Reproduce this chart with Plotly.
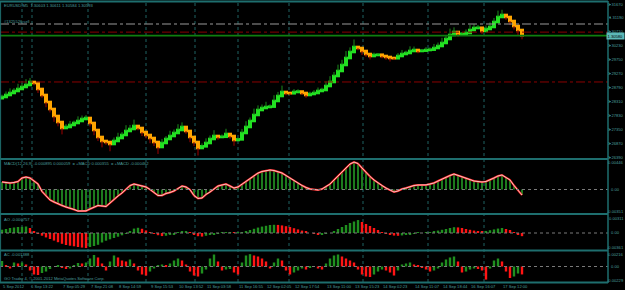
import plotly.graph_objects as go

# ---------------- data ----------------
open0 = 1.28420
close = [
    1.28462, 1.28531, 1.28600, 1.28669, 1.28738, 1.28807, 1.28876, 1.28979, 1.28945, 1.28738,
    1.28531, 1.28289, 1.28048, 1.27806, 1.27599, 1.27392, 1.27427, 1.27496, 1.27565, 1.27634,
    1.27703, 1.27737, 1.27565, 1.27323, 1.27082, 1.26944, 1.26909, 1.26840, 1.26944, 1.27047,
    1.27151, 1.27289, 1.27358, 1.27461, 1.27392, 1.27254, 1.27151, 1.27047, 1.26909, 1.26737,
    1.26875, 1.27013, 1.27116, 1.27220, 1.27323, 1.27427, 1.27289, 1.27082, 1.26909, 1.26702,
    1.26760, 1.26875, 1.27013, 1.27116, 1.27082, 1.27090, 1.27185, 1.27116, 1.26978, 1.27000,
    1.27220, 1.27427, 1.27634, 1.27841, 1.28013, 1.28082, 1.28117, 1.28130, 1.28324, 1.28496,
    1.28634, 1.28600, 1.28590, 1.28634, 1.28650, 1.28600, 1.28531, 1.28565, 1.28600, 1.28669,
    1.28703, 1.28841, 1.28979, 1.29186, 1.29359, 1.29566, 1.29807, 1.30014, 1.30187, 1.30152,
    1.30049, 1.29945, 1.29876, 1.29911, 1.29920, 1.29876, 1.29842, 1.29807, 1.29800, 1.29876,
    1.29945, 1.29980, 1.30049, 1.30083, 1.30049, 1.30060, 1.30083, 1.30095, 1.30152, 1.30221,
    1.30325, 1.30463, 1.30601, 1.30704, 1.30635, 1.30640, 1.30670, 1.30773, 1.30842, 1.30850,
    1.30738, 1.30808, 1.30877, 1.31049, 1.31222, 1.31291, 1.31222, 1.31083, 1.30911, 1.30773,
    1.30593]
wick_pips = [
    8, 12, 16, 10, 18, 12, 20, 14, 8, 14,
    10, 18, 12, 20, 15, 22, 10, 14, 8, 16,
    12, 10, 12, 18, 14, 22, 10, 25, 12, 18,
    10, 20, 14, 22, 8, 14, 12, 18, 14, 24,
    14, 10, 18, 12, 20, 16, 10, 18, 14, 26,
    10, 16, 12, 20, 10, 8, 18, 10, 20, 6,
    14, 20, 12, 22, 16, 12, 18, 8, 20, 14,
    22, 8, 6, 10, 8, 6, 10, 8, 10, 12,
    8, 16, 20, 14, 22, 18, 24, 16, 26, 8,
    14, 10, 12, 8, 6, 8, 10, 12, 6, 10,
    14, 8, 16, 12, 8, 6, 10, 8, 14, 12,
    18, 14, 22, 16, 10, 6, 12, 18, 14, 10,
    10, 12, 16, 14, 22, 18, 10, 14, 12, 18,
    14]
macd = [
    0.00122, 0.00114, 0.00106, 0.00114, 0.00130, 0.00187, 0.00203, 0.00187, 0.00138, 0.00089,
    -0.00033, -0.00106, -0.00171, -0.00203, -0.00236, -0.00260, -0.00285, -0.00301, -0.00325, -0.00351,
    -0.00350, -0.00348, -0.00317, -0.00285, -0.00260, -0.00268, -0.00277, -0.00220, -0.00155, -0.00106,
    -0.00057, 0.00008, 0.00065, 0.00089, 0.00073, 0.00057, 0.00041, 0.00000, -0.00049, -0.00098,
    -0.00096, -0.00065, -0.00049, -0.00024, 0.00016, 0.00057, 0.00041, -0.00002, -0.00098, -0.00146,
    -0.00138, -0.00081, -0.00041, 0.00008, 0.00057, 0.00073, 0.00089, 0.00057, 0.00024, 0.00041,
    0.00089, 0.00138, 0.00187, 0.00228, 0.00268, 0.00293, 0.00309, 0.00317, 0.00309, 0.00293,
    0.00268, 0.00228, 0.00187, 0.00138, 0.00098, 0.00065, 0.00033, 0.00008, 0.00000, -0.00008,
    0.00008, 0.00049, 0.00089, 0.00155, 0.00220, 0.00293, 0.00358, 0.00415, 0.00446, 0.00423,
    0.00350, 0.00277, 0.00212, 0.00155, 0.00106, 0.00065, 0.00024, -0.00008, -0.00041, -0.00024,
    0.00008, 0.00024, 0.00049, 0.00065, 0.00073, 0.00074, 0.00075, 0.00089, 0.00106, 0.00138,
    0.00171, 0.00195, 0.00228, 0.00252, 0.00228, 0.00203, 0.00179, 0.00163, 0.00138, 0.00130,
    0.00122, 0.00130, 0.00155, 0.00187, 0.00220, 0.00236, 0.00195, 0.00155, 0.00065, -0.00016,
    -0.00090]
ao = [
    0.00079, 0.00096, 0.00120, 0.00132, 0.00144, 0.00149, 0.00156, 0.00120, 0.00048, -0.00024,
    -0.00065, -0.00106, -0.00144, -0.00182, -0.00221, -0.00259, -0.00288, -0.00305, -0.00319, -0.00336,
    -0.00350, -0.00361, -0.00336, -0.00312, -0.00283, -0.00228, -0.00185, -0.00151, -0.00120, -0.00089,
    -0.00055, -0.00024, 0.00048, 0.00106, 0.00125, 0.00101, 0.00062, 0.00024, -0.00014, -0.00053,
    -0.00074, -0.00067, -0.00048, -0.00029, 0.00005, 0.00034, 0.00043, 0.00024, -0.00034, -0.00077,
    -0.00086, -0.00067, -0.00048, -0.00029, -0.00010, 0.00005, 0.00014, 0.00024, 0.00007, 0.00008,
    0.00024, 0.00048, 0.00072, 0.00101, 0.00130, 0.00154, 0.00173, 0.00192, 0.00197, 0.00194,
    0.00182, 0.00163, 0.00144, 0.00115, 0.00086, 0.00058, 0.00029, 0.00000, -0.00019, -0.00038,
    -0.00036, -0.00019, 0.00000, 0.00048, 0.00096, 0.00144, 0.00192, 0.00240, 0.00276, 0.00311,
    0.00264, 0.00216, 0.00168, 0.00120, 0.00072, 0.00024, -0.00024, -0.00043, -0.00062, -0.00067,
    -0.00058, -0.00048, -0.00029, -0.00010, 0.00005, 0.00000, 0.00005, 0.00024, 0.00038, 0.00058,
    0.00077, 0.00096, 0.00120, 0.00139, 0.00134, 0.00120, 0.00096, 0.00077, 0.00058, 0.00048,
    0.00047, 0.00049, 0.00067, 0.00086, 0.00106, 0.00120, 0.00096, 0.00072, 0.00010, -0.00038,
    -0.00076]
ac = [
    0.00096, 0.00026, -0.00035, 0.00070, 0.00053, 0.00070, 0.00035, -0.00070, -0.00140, -0.00149,
    -0.00114, -0.00088, -0.00044, 0.00000, 0.00009, -0.00018, -0.00044, -0.00035, 0.00018, 0.00061,
    0.00053, 0.00070, 0.00140, 0.00201, 0.00158, 0.00053, -0.00070, 0.00088, 0.00193, 0.00158,
    0.00105, 0.00088, 0.00123, 0.00053, -0.00070, -0.00140, -0.00158, -0.00088, -0.00035, 0.00018,
    0.00035, 0.00026, 0.00053, 0.00105, 0.00140, 0.00105, 0.00035, -0.00088, -0.00158, -0.00175,
    -0.00123, -0.00053, 0.00140, 0.00210, 0.00088, -0.00070, -0.00053, -0.00044, -0.00105, -0.00140,
    0.00070, 0.00193, 0.00216, 0.00193, 0.00175, 0.00140, 0.00088, -0.00035, 0.00070, 0.00140,
    0.00105, -0.00070, -0.00140, -0.00105, -0.00070, -0.00035, -0.00053, -0.00018, 0.00000, -0.00035,
    -0.00053, 0.00053, 0.00140, 0.00193, 0.00210, 0.00175, 0.00140, 0.00105, 0.00070, -0.00053,
    -0.00140, -0.00175, -0.00184, -0.00140, -0.00088, -0.00053, -0.00070, -0.00105, -0.00158, -0.00070,
    0.00035, 0.00053, 0.00070, 0.00035, 0.00018, -0.00018, -0.00053, -0.00088, -0.00070, -0.00035,
    0.00070, 0.00123, 0.00158, 0.00175, 0.00088, -0.00105, -0.00088, -0.00053, -0.00035, -0.00044,
    -0.00070, -0.00229, -0.00035, 0.00105, 0.00140, 0.00088, -0.00088, -0.00201, -0.00175, -0.00123,
    -0.00139]

price_ticks = [1.31670, 1.31190, 1.30710, 1.30230, 1.29750, 1.29270,
               1.28790, 1.28310, 1.27830, 1.27350, 1.26870, 1.26390]
date_labels = ["5 Sep 2012", "6 Sep 13:22", "7 Sep 05:29", "7 Sep 21:08", "8 Sep 14:59",
               "9 Sep 15:53", "10 Sep 13:52", "11 Sep 03:58", "11 Sep 16:55", "12 Sep 02:05",
               "12 Sep 17:54", "13 Sep 11:00", "13 Sep 15:23", "14 Sep 02:23", "14 Sep 11:07",
               "14 Sep 18:44", "16 Sep 16:07", "17 Sep 12:00"]
date_bars = [0, 7, 15, 22, 29, 37, 44, 51, 59, 66, 73, 81, 88, 95, 103, 110, 117, 125]
separator_bars = [5, 7.5, 21.5, 36, 48.25, 59, 71.75, 90.25, 106.5, 120.5]

order_price = 1.30980
stop_level = 1.30700
take_level = 1.28980
bid = 1.30580
macd_hi, macd_lo = 0.00446, -0.00351
ao_hi, ao_lo = 0.00311, -0.00361
ac_hi, ac_lo = 0.00216, -0.00229

title_text = "EURUSD,M5  1.30603 1.30611 1.30584 1.30593"
order_text = "#1325526 sell"
macd_text = "MACD(12,26,9) -0.000895 0.000059  = +MACD 0.000355  = +MACD -0.000462"
ao_text = "AO -0.000757"
ac_text = "AC -0.001388"
copy_text = "GO Trader 4, \u00a9 2001-2012 MetaQuotes Software Corp."

# ---------------- styling ----------------
W, H, PLOT_W = 625, 290, 608
BG = "#000000"
TXT = "#4a9e9e"
FRAME = "#1e6e6e"
GRID = "#1f6262"
UP_BODY, DN_BODY = "#22e022", "#ffa500"
UP_WICK, DN_WICK = "#1c8c1c", "#a00000"
HIST_GREEN, HIST_RED = "#1f8f1f", "#ff1414"
FS = 4.1
RIGHT_X = 624.5 / PLOT_W


def py(y):
    return (H - y) / H


n = len(close)
idx = list(range(n))
opens = [open0] + close[:-1]
up = [c >= o for o, c in zip(opens, close)]

pad = 0.00045
body_base = [min(o, c) - pad for o, c in zip(opens, close)]
body_h = [abs(c - o) + 2 * pad for o, c in zip(opens, close)]
body_col = [UP_BODY if u else DN_BODY for u in up]

wu_x, wu_y, wd_x, wd_y = [], [], [], []
for i in idx:
    w = wick_pips[i] * 0.0001
    if up[i]:
        t = max(opens[i], close[i])
        wu_x += [i, i, None]
        wu_y += [t, t + w, None]
    else:
        b = min(opens[i], close[i])
        wd_x += [i, i, None]
        wd_y += [b - w, b, None]

ao_col = [HIST_GREEN if (i == 0 or ao[i] >= ao[i - 1]) else HIST_RED for i in idx]
ac_col = [HIST_GREEN if (i == 0 or ac[i] >= ac[i - 1]) else HIST_RED for i in idx]

fig = go.Figure()
fig.add_trace(go.Scatter(x=wu_x, y=wu_y, mode="lines", line=dict(color=UP_WICK, width=1),
                         xaxis="x", yaxis="y", hoverinfo="skip"))
fig.add_trace(go.Scatter(x=wd_x, y=wd_y, mode="lines", line=dict(color=DN_WICK, width=1),
                         xaxis="x", yaxis="y", hoverinfo="skip"))
fig.add_trace(go.Bar(x=idx, y=body_h, base=body_base, width=1.0,
                     marker=dict(color=body_col, line=dict(width=0)), xaxis="x", yaxis="y"))
# MACD
fig.add_trace(go.Bar(x=idx, y=macd, width=0.5, marker=dict(color="#1d7a1d", line=dict(width=0)),
                     xaxis="x2", yaxis="y2"))
fig.add_trace(go.Scatter(x=idx, y=macd, mode="lines", line=dict(color="#ff2020", width=2.0),
                         xaxis="x2", yaxis="y2"))
fig.add_trace(go.Scatter(x=idx, y=macd, mode="lines", line=dict(color="#f0f0f0", width=0.8),
                         xaxis="x2", yaxis="y2"))
# AO / AC
fig.add_trace(go.Bar(x=idx, y=ao, width=0.6, marker=dict(color=ao_col, line=dict(width=0)),
                     xaxis="x3", yaxis="y3"))
fig.add_trace(go.Bar(x=idx, y=ac, width=0.6, marker=dict(color=ac_col, line=dict(width=0)),
                     xaxis="x4", yaxis="y4"))

xr = [-0.5, PLOT_W / 4 - 0.5]
hidden_x = dict(range=xr, visible=False, fixedrange=True)

main_box = (3, 158)
macd_box = (160, 213)
ao_box = (215, 250)
ac_box = (251, 282)

price_per_px = 0.000345
main_range = [price_ticks[0] - (main_box[1] - 4) * price_per_px,
              price_ticks[0] + (4 - main_box[0]) * price_per_px]

fig.update_layout(
    width=W, height=H, margin=dict(l=0, r=W - PLOT_W, t=0, b=0),
    paper_bgcolor=BG, plot_bgcolor=BG, showlegend=False, barmode="overlay",
    font=dict(family="Liberation Sans, Arial", size=FS, color=TXT),
    xaxis=dict(anchor="y", **hidden_x),
    xaxis2=dict(anchor="y2", matches="x", **hidden_x),
    xaxis3=dict(anchor="y3", matches="x", **hidden_x),
    xaxis4=dict(anchor="y4", matches="x", **hidden_x),
    yaxis=dict(domain=[py(main_box[1]), py(main_box[0])], range=main_range, side="right",
               tickvals=price_ticks, showticklabels=False, ticks="outside", ticklen=2,
               tickcolor=FRAME, showgrid=False, zeroline=False, showline=False,
               automargin=False, fixedrange=True),
    yaxis2=dict(domain=[py(macd_box[1]), py(macd_box[0])],
                range=[-(macd_box[1] - 189.5) * 0.0001627, (189.5 - macd_box[0]) * 0.0001627],
                visible=False, fixedrange=True),
    yaxis3=dict(domain=[py(ao_box[1]), py(ao_box[0])],
                range=[-(ao_box[1] - 233) * 0.00024, (233 - ao_box[0]) * 0.00024],
                visible=False, fixedrange=True),
    yaxis4=dict(domain=[py(ac_box[1]), py(ac_box[0])],
                range=[-(ac_box[1] - 266.5) * 0.000175, (266.5 - ac_box[0]) * 0.000175],
                visible=False, fixedrange=True),
)

shapes = []
for b in separator_bars:
    shapes.append(dict(type="line", xref="x", yref="paper", x0=b, x1=b, y0=py(282), y1=py(3),
                       line=dict(color=GRID, width=1, dash="dot"), layer="below"))
shapes.append(dict(type="line", xref="paper", yref="y", x0=0, x1=1, y0=order_price, y1=order_price,
                   line=dict(color="#9a9a9a", width=1, dash="dashdot")))
for lv in (stop_level, take_level):
    shapes.append(dict(type="line", xref="paper", yref="y", x0=0, x1=1, y0=lv, y1=lv,
                       line=dict(color="#8a0000", width=1, dash="dashdot")))
shapes.append(dict(type="line", xref="paper", yref="y", x0=0, x1=1, y0=bid, y1=bid,
                   line=dict(color="#0f7f0f", width=1.6)))
for ax in ("y2", "y3", "y4"):
    shapes.append(dict(type="line", xref="paper", yref=ax, x0=0, x1=1, y0=0, y1=0,
                       line=dict(color="#7a7a7a", width=1, dash="dot")))
for yy in (1.5, 159, 214, 250.5, 282.5):
    shapes.append(dict(type="line", xref="paper", yref="paper", x0=0, x1=1, y0=py(yy), y1=py(yy),
                       line=dict(color=FRAME, width=2)))
shapes.append(dict(type="line", xref="paper", yref="paper", x0=1, x1=1, y0=py(283), y1=py(1),
                   line=dict(color=FRAME, width=1.5)))
shapes.append(dict(type="line", xref="paper", yref="paper", x0=0.001, x1=0.001, y0=py(283), y1=py(1),
                   line=dict(color=FRAME, width=1)))
fig.update_layout(shapes=shapes)

ann = []


def txt(text, x, y, xanchor="left", yref="paper", **kw):
    d = dict(text=text, x=x, y=y, xref="paper", yref=yref, xanchor=xanchor, yanchor="middle",
             showarrow=False, font=dict(size=FS, color=TXT), borderpad=0)
    d.update(kw)
    ann.append(d)


txt(title_text, 0.005, py(5))
txt(order_text, 0.005, py(21.5))
txt(macd_text, 0.005, py(163.5))
txt(ao_text, 0.005, py(219))
txt(ac_text, 0.005, py(254.5))
txt(copy_text, 0.005, py(278.5))

# price scale labels (right side, through the price axis)
for v in price_ticks:
    txt("%.5f" % v, RIGHT_X, v, xanchor="right", yref="y")

# indicator scale labels
for text, yy in (("%.5f" % macd_hi, 162.5), ("0.00", 189.5), ("%.5f" % macd_lo, 211),
                 ("%.5f" % ao_hi, 218.5), ("0.00", 233), ("%.5f" % ao_lo, 247),
                 ("%.5f" % ac_hi, 254), ("0.00", 266.5), ("%.5f" % ac_lo, 280)):
    if text == "0.00":
        txt(text, 1.0, py(yy), xshift=2)
    else:
        txt(text, RIGHT_X, py(yy), xanchor="right")

# current price box
ann.append(dict(text="%.5f" % bid, x=RIGHT_X, y=bid, xref="paper", yref="y", xanchor="right",
                yanchor="middle", showarrow=False, bgcolor="#5cb8b8",
                font=dict(size=FS, color="#000000"), borderpad=0.6))

for lab, b in zip(date_labels, date_bars):
    ann.append(dict(text=lab, x=b - 0.3, y=py(286.5), xref="x", yref="paper", xanchor="left",
                    yanchor="middle", showarrow=False, font=dict(size=FS, color=TXT)))

fig.update_layout(annotations=ann)
fig.write_html("out.html")
